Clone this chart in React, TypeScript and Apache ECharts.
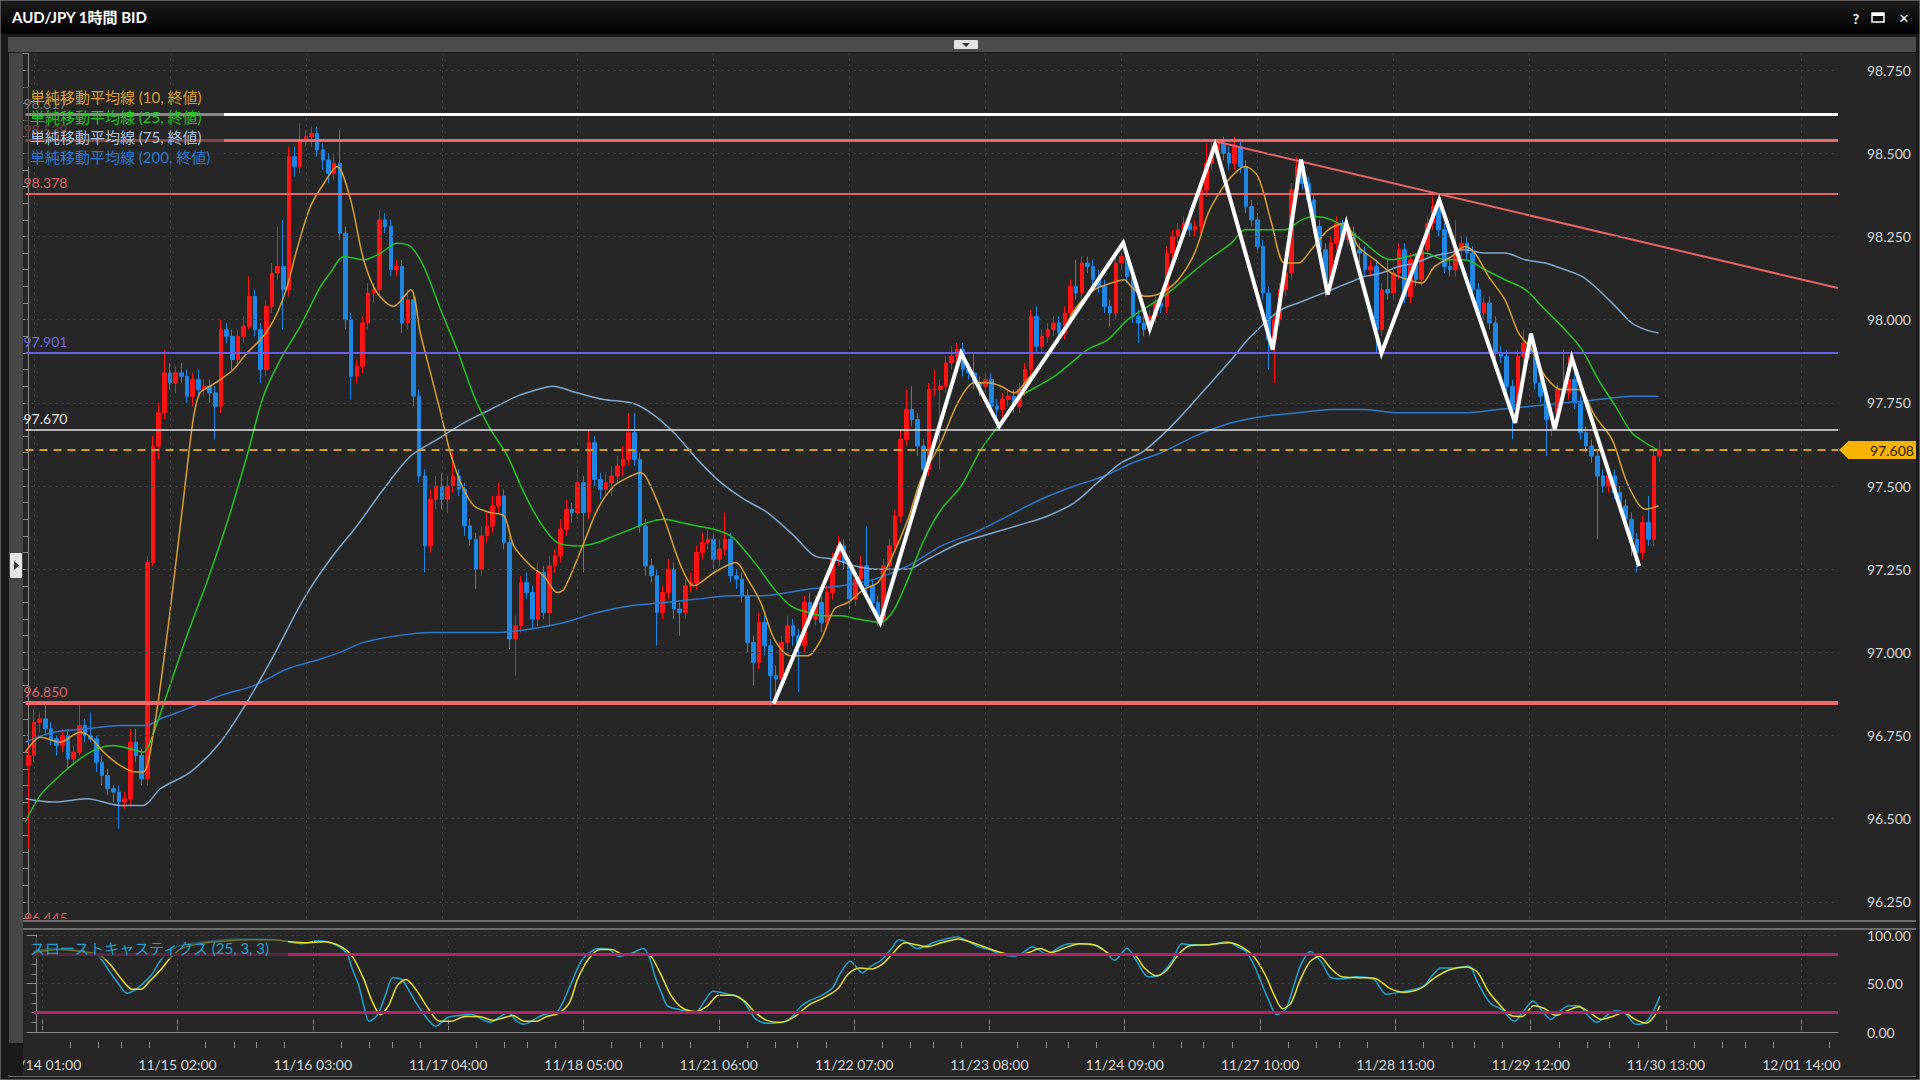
import React, { useEffect, useRef } from "react";
import * as echarts from "echarts";

// ---------------- DATA ----------------
const firstOpen = 96.66;
// hourly closes, index 0 = 11/14 00:00 ... index 288 = 11/30 12:00
const closes = [
  96.69, 96.79, 96.80, 96.77, 96.74, 96.72, 96.75, 96.68, 96.70, 96.78,
  96.75, 96.74, 96.67, 96.63, 96.59, 96.58, 96.55, 96.56, 96.73, 96.69,
  96.62, 97.27, 97.62, 97.72, 97.84, 97.81, 97.84, 97.83, 97.77, 97.82,
  97.79, 97.80, 97.78, 97.74, 97.97, 97.95, 97.88, 97.95, 97.98, 98.07,
  97.97, 97.85, 98.04, 98.14, 98.16, 98.09, 98.49, 98.46, 98.54, 98.55,
  98.56, 98.51, 98.48, 98.44, 98.47, 98.26, 98.00, 97.83, 97.86, 97.99,
  98.08, 98.09, 98.30, 98.28, 98.15, 98.16, 97.99, 98.06, 97.77, 97.53,
  97.32, 97.46, 97.50, 97.46, 97.50, 97.53, 97.49, 97.38, 97.34, 97.25,
  97.35, 97.38, 97.44, 97.47, 97.33, 97.04, 97.08, 97.21, 97.18, 97.10,
  97.24, 97.12, 97.26, 97.29, 97.37, 97.43, 97.42, 97.51, 97.42, 97.63,
  97.52, 97.49, 97.51, 97.53, 97.56, 97.58, 97.66, 97.58, 97.38, 97.26,
  97.23, 97.12, 97.18, 97.25, 97.13, 97.12, 97.20, 97.21, 97.30, 97.33,
  97.34, 97.28, 97.31, 97.34, 97.23, 97.22, 97.17, 97.03, 96.97, 97.09,
  97.02, 96.93, 96.92, 97.03, 97.08, 97.05, 97.02, 97.15, 97.10, 97.15,
  97.09, 97.18, 97.28, 97.32, 97.27, 97.16, 97.22, 97.26, 97.20, 97.15,
  97.10, 97.26, 97.32, 97.41, 97.64, 97.73, 97.70, 97.62, 97.55, 97.79,
  97.79, 97.80, 97.87, 97.89, 97.91, 97.85, 97.84, 97.81, 97.80, 97.82,
  97.74, 97.73, 97.76, 97.77, 97.74, 97.79, 97.85, 98.01, 97.92, 97.95,
  97.97, 97.99, 97.96, 98.02, 98.10, 98.08, 98.17, 98.16, 98.12, 98.10,
  98.04, 98.02, 98.17, 98.19, 98.13, 98.01, 97.99, 97.97, 98.01, 98.05,
  98.04, 98.20, 98.25, 98.27, 98.29, 98.27, 98.28, 98.39, 98.47, 98.51,
  98.53, 98.50, 98.47, 98.52, 98.46, 98.34, 98.30, 98.22, 98.08, 97.94,
  98.00, 98.09, 98.14, 98.39, 98.46, 98.41, 98.36, 98.28, 98.21, 98.11,
  98.23, 98.29, 98.24, 98.26, 98.21, 98.20, 98.15, 98.16, 97.97, 98.09,
  98.08, 98.14, 98.21, 98.07, 98.18, 98.12, 98.21, 98.29, 98.34, 98.27,
  98.16, 98.15, 98.21, 98.23, 98.20, 98.09, 98.02, 98.05, 97.99, 97.90,
  97.89, 97.80, 97.73, 97.89, 97.93, 97.90, 97.81, 97.77, 97.70, 97.72,
  97.79, 97.78, 97.82, 97.75, 97.66, 97.62, 97.59, 97.53, 97.50, 97.53,
  97.48, 97.44, 97.40, 97.34, 97.30, 97.39, 97.34, 97.59, 97.608,
];
// wick lengths beyond the body, in 0.01 JPY
const upperWicks = [
  3, 4, 2, 5, 2, 1, 2, 2, 2, 7,
  2, 7, 1, 2, 2, 1, 2, 2, 4, 4,
  2, 2, 3, 3, 7, 3, 2, 3, 2, 2,
  3, 2, 2, 2, 3, 2, 2, 2, 3, 6,
  2, 2, 2, 3, 12, 14, 3, 3, 5, 2,
  2, 2, 2, 2, 3, 10, 2, 2, 2, 2,
  3, 2, 3, 2, 2, 2, 2, 3, 2, 2,
  2, 3, 3, 4, 3, 7, 2, 2, 2, 2,
  3, 4, 3, 4, 2, 2, 3, 2, 3, 2,
  3, 2, 3, 2, 3, 3, 2, 4, 2, 4,
  2, 2, 3, 3, 3, 4, 6, 6, 2, 2,
  2, 2, 2, 3, 2, 2, 2, 3, 2, 3,
  3, 2, 3, 8, 2, 2, 2, 2, 2, 3,
  2, 2, 3, 2, 3, 2, 2, 2, 3, 2,
  2, 2, 2, 3, 2, 2, 2, 3, 12, 2,
  2, 2, 2, 2, 3, 6, 7, 2, 2, 2,
  6, 2, 2, 3, 2, 2, 2, 6, 2, 2,
  2, 2, 2, 2, 2, 2, 2, 2, 3, 2,
  2, 2, 2, 2, 2, 8, 2, 2, 2, 3,
  2, 2, 2, 4, 2, 2, 2, 2, 2, 2,
  2, 2, 2, 2, 2, 4, 2, 2, 6, 3,
  1, 2, 2, 3, 2, 2, 2, 2, 2, 2,
  2, 2, 2, 2, 3, 2, 2, 2, 2, 2,
  2, 2, 1, 2, 2, 2, 2, 2, 2, 2,
  9, 2, 2, 2, 2, 2, 2, 2, 3, 2,
  2, 2, 9, 2, 2, 2, 2, 2, 2, 2,
  2, 2, 2, 2, 4, 2, 2, 2, 2, 2,
  2, 12, 7, 2, 2, 2, 2, 2, 2, 2,
  2, 2, 2, 2, 2, 2, 8, 2, 3,
];
const lowerWicks = [
  25, 2, 3, 2, 2, 3, 2, 3, 2, 1,
  2, 1, 3, 3, 2, 3, 8, 2, 2, 2,
  2, 2, 1, 4, 2, 2, 3, 2, 2, 3,
  2, 2, 3, 10, 2, 2, 3, 2, 2, 1,
  2, 4, 2, 2, 2, 12, 2, 3, 2, 2,
  3, 2, 3, 3, 2, 2, 3, 7, 2, 2,
  2, 3, 2, 2, 2, 2, 3, 2, 3, 2,
  8, 2, 3, 3, 4, 2, 2, 3, 2, 6,
  2, 2, 2, 2, 2, 3, 11, 2, 2, 3,
  2, 2, 4, 2, 2, 2, 3, 2, 18, 2,
  2, 3, 2, 4, 2, 3, 2, 2, 2, 3,
  2, 10, 2, 2, 3, 7, 2, 2, 2, 2,
  2, 3, 2, 2, 2, 3, 2, 3, 7, 2,
  3, 9, 6, 2, 2, 3, 14, 2, 2, 2,
  3, 2, 2, 2, 2, 3, 2, 2, 2, 2,
  2, 2, 2, 2, 2, 2, 2, 3, 5, 2,
  2, 24, 2, 2, 2, 2, 2, 2, 3, 2,
  2, 5, 3, 2, 2, 2, 2, 2, 2, 2,
  2, 2, 3, 2, 2, 2, 2, 2, 2, 2,
  2, 4, 2, 2, 2, 2, 6, 2, 2, 2,
  2, 2, 2, 2, 2, 2, 2, 2, 2, 2,
  2, 2, 2, 2, 2, 2, 2, 2, 2, 9,
  13, 2, 2, 2, 2, 2, 2, 2, 2, 4,
  2, 2, 2, 2, 2, 3, 2, 2, 7, 2,
  2, 2, 2, 2, 2, 2, 2, 2, 2, 2,
  2, 2, 2, 2, 2, 2, 2, 2, 2, 2,
  2, 4, 9, 2, 2, 2, 2, 2, 11, 5,
  2, 2, 2, 2, 2, 2, 2, 19, 2, 2,
  2, 2, 2, 5, 6, 2, 2, 2, 2,
];

const tickLabels = [
  "11/14 01:00", "11/15 02:00", "11/16 03:00", "11/17 04:00", "11/18 05:00",
  "11/21 06:00", "11/22 07:00", "11/23 08:00", "11/24 09:00", "11/27 10:00",
  "11/28 11:00", "11/29 12:00", "11/30 13:00", "12/01 14:00",
];
const priceTicks = [96.25, 96.5, 96.75, 97.0, 97.25, 97.5, 97.75, 98.0, 98.25, 98.5, 98.75];
const levelValues = [98.617, 98.539, 98.378, 97.901, 97.67, 96.85];
const currentPrice = 97.608;
const stochLevels = [80, 20];

// moving averages: [bar index, value]
const ma10 = [
  [-0.5, 96.7], [2.1, 96.745], [5.6, 96.73], [9.1, 96.76], [10.6, 96.75], [13.3, 96.7], [16.2, 96.66], [18.9, 96.64], [20.3, 96.64], [22.1, 96.76],
  [25, 97.12], [28, 97.55], [29.2, 97.71], [30.3, 97.78], [32.1, 97.8], [33.9, 97.82], [36.2, 97.85], [38.6, 97.9], [41, 97.94], [42.7, 97.98],
  [44.2, 98.03], [45.7, 98.1], [47.4, 98.21], [49.8, 98.34], [52.2, 98.41], [54.5, 98.46], [56.9, 98.36], [59.2, 98.18], [61.6, 98.08], [64.5, 98.04],
  [67.5, 98.09], [69.2, 97.96], [71, 97.84], [72.8, 97.72], [74.5, 97.6], [76.6, 97.5], [78.7, 97.44], [81.6, 97.42], [84, 97.41], [85.7, 97.32],
  [88.7, 97.26], [91, 97.23], [93.4, 97.18], [94.6, 97.19], [98.1, 97.33], [100.5, 97.43], [103.4, 97.5], [106.4, 97.53], [108.1, 97.54], [109.3, 97.52],
  [112.3, 97.4], [115.2, 97.26], [117.5, 97.2], [121.1, 97.24], [124.9, 97.27], [127, 97.22], [129.3, 97.15], [131.7, 97.04], [134.6, 96.99], [137.6, 96.99],
  [140, 97.04], [142.3, 97.13], [144.7, 97.15], [147.6, 97.19], [150, 97.21], [152.3, 97.28], [155.3, 97.4], [157.6, 97.52], [161.1, 97.63], [164.1, 97.75],
  [167, 97.81], [169.4, 97.81], [171.7, 97.8], [174.1, 97.78], [176.4, 97.82], [179.4, 97.88], [182.3, 97.95], [184.7, 98.03], [188.2, 98.09], [191.2, 98.11],
  [193.5, 98.12], [194.7, 98.1], [197.1, 98.07], [200, 98.08], [203, 98.12], [205.9, 98.2], [208.3, 98.32], [210.6, 98.39], [212.4, 98.43], [214.8, 98.46],
  [217.1, 98.43], [219.5, 98.29], [221.8, 98.17], [224.2, 98.17], [226.5, 98.21], [229.5, 98.27], [232.4, 98.29], [234.8, 98.22], [237.7, 98.18], [240.7, 98.14],
  [243.6, 98.12], [246, 98.11], [248.3, 98.16], [251.3, 98.19], [253.6, 98.22], [255.4, 98.2], [257.8, 98.13], [260.7, 98.06], [263.1, 97.96], [265.4, 97.91],
  [267.8, 97.83], [270.7, 97.79], [273.7, 97.79], [276.6, 97.71], [279.6, 97.64], [282.5, 97.5], [285.5, 97.43], [287.8, 97.44],
];
const ma25 = [
  [-0.5, 96.49], [2.1, 96.57], [5.6, 96.63], [9.1, 96.68], [12.1, 96.71], [15, 96.72], [18, 96.71], [20.3, 96.7], [21.5, 96.73], [25, 96.9],
  [28, 97.05], [31.5, 97.21], [35.1, 97.39], [38.6, 97.59], [41.5, 97.77], [44.5, 97.88], [48, 97.98], [51.6, 98.1], [53.3, 98.14], [55.7, 98.19],
  [59.2, 98.18], [62.2, 98.2], [65.1, 98.23], [67.5, 98.22], [69.8, 98.16], [72.8, 98.03], [75.7, 97.91], [78.7, 97.77], [81.6, 97.67], [84.6, 97.59],
  [87.5, 97.48], [90.4, 97.39], [93.4, 97.33], [97.5, 97.32], [100.5, 97.33], [103.4, 97.35], [106.4, 97.37], [109.3, 97.39], [112.3, 97.4], [115.2, 97.39],
  [118.1, 97.38], [121.1, 97.37], [124, 97.35], [125.8, 97.32], [128.7, 97.26], [131.7, 97.19], [134.6, 97.14], [137.6, 97.12], [140.5, 97.11], [143.5, 97.11],
  [146.4, 97.1], [150.5, 97.09], [152.9, 97.13], [155.3, 97.22], [158.2, 97.34], [161.2, 97.43], [164.7, 97.5], [168.2, 97.61], [171.7, 97.69], [175.3, 97.77],
  [178.2, 97.8], [181.2, 97.83], [184.1, 97.87], [187, 97.91], [190.6, 97.94], [194.1, 98.0], [197.7, 98.04], [201.2, 98.08], [204.7, 98.13], [208.3, 98.18],
  [212.4, 98.23], [214.8, 98.27], [218.3, 98.27], [221.8, 98.27], [224.8, 98.3], [227.1, 98.31], [230.1, 98.3], [233, 98.27], [236, 98.23], [238.9, 98.19],
  [240.7, 98.18], [243.6, 98.19], [246.6, 98.2], [250.1, 98.18], [253.6, 98.18], [257.2, 98.15], [260.7, 98.12], [264.3, 98.09], [267.8, 98.03], [271.3, 97.97],
  [274.3, 97.91], [277.2, 97.82], [280.2, 97.74], [283.1, 97.66], [285.5, 97.63], [287.5, 97.61],
];
const ma75 = [
  [-0.5, 96.56], [4.4, 96.55], [10.3, 96.56], [16.2, 96.54], [20.3, 96.54], [23.3, 96.59], [28.6, 96.64], [33.9, 96.73], [38.6, 96.85], [43.3, 96.99],
  [48.6, 97.16], [53.3, 97.28], [58, 97.38], [62.7, 97.49], [67.5, 97.59], [72.2, 97.64], [76.9, 97.69], [81.6, 97.73], [86.3, 97.77], [89.9, 97.79],
  [92.5, 97.8], [96.9, 97.78], [101.6, 97.76], [106.4, 97.75], [109.9, 97.72], [114, 97.66], [118.1, 97.58], [122.3, 97.51], [126.4, 97.46], [130.5, 97.42],
  [135.2, 97.35], [138.8, 97.29], [142.3, 97.28], [145.8, 97.26], [149.4, 97.25], [152.9, 97.25], [155.3, 97.25], [158.8, 97.28], [164.7, 97.33], [170.5, 97.36],
  [176.4, 97.39], [180, 97.41], [184.7, 97.45], [189.4, 97.52], [193, 97.57], [196.5, 97.6], [200, 97.65], [203.5, 97.71], [207.7, 97.79], [212.4, 97.88],
  [215.3, 97.94], [218.3, 97.99], [221.2, 98.03], [224.2, 98.05], [227.1, 98.07], [230.1, 98.09], [233, 98.11], [236, 98.13], [238.9, 98.14], [241.9, 98.16],
  [244.8, 98.17], [247.8, 98.19], [250.7, 98.2], [253.6, 98.21], [257.2, 98.2], [260.7, 98.2], [264.3, 98.18], [267.8, 98.17], [271.3, 98.15], [274.3, 98.13],
  [277.2, 98.09], [280.2, 98.04], [283.1, 97.99], [285.5, 97.97], [287.8, 97.96],
];
const ma200 = [
  [-0.5, 96.73], [4.4, 96.76], [10.3, 96.77], [16.2, 96.78], [20.9, 96.78], [23.3, 96.8], [28, 96.83], [33.9, 96.87], [39.8, 96.9], [45.7, 96.95],
  [51.6, 96.98], [55, 97.0], [59.2, 97.03], [65.1, 97.05], [71, 97.06], [76.9, 97.06], [82.8, 97.06], [88.7, 97.07], [94.6, 97.09], [100.5, 97.12],
  [106.4, 97.14], [112.3, 97.15], [118.1, 97.16], [124, 97.17], [129.3, 97.17], [137.6, 97.19], [143.5, 97.2], [149.4, 97.22], [155.3, 97.26], [161.2, 97.32],
  [167.1, 97.36], [173, 97.41], [178.8, 97.46], [184.7, 97.5], [190, 97.53], [195, 97.57], [200, 97.6], [206, 97.65], [212.4, 97.69], [218.3, 97.71],
  [224.2, 97.72], [230.1, 97.73], [236, 97.73], [241.9, 97.72], [247.8, 97.72], [253.6, 97.72], [259.5, 97.73], [265.4, 97.74], [271.3, 97.75], [277.2, 97.76],
  [283.1, 97.77], [287.8, 97.77],
];
// slow stochastics %K / %D
const stochK = [
  [-0.5, 83], [3, 86], [6, 85], [9, 82], [11, 78], [13, 62], [14.5, 50], [16, 40], [17, 42], [18.3, 47], [20.4, 59], [22, 74], [24, 85], [26, 90], [30, 93],
  [33, 95], [36, 96], [39, 96], [42, 95], [44, 94], [47, 91], [50, 94], [53, 90], [55, 81], [56, 65], [57.2, 47], [58, 28], [59, 11], [60.5, 18], [62, 40],
  [63.2, 56], [64.8, 54], [67, 33], [69, 16], [70.8, 6], [72.9, 15], [75, 17], [77.3, 18], [79, 13], [80.5, 10], [82, 15], [83.7, 20], [85, 12], [86.4, 8],
  [88, 12], [89.2, 16], [90.8, 19], [92.4, 21], [94.6, 47], [96.7, 74], [98.9, 85], [100, 86], [101.6, 85], [103.2, 78], [105.4, 81], [107.6, 86], [108.8, 75],
  [109.7, 57], [111, 38], [111.9, 27], [114.1, 23], [116.8, 20], [118.5, 32], [120, 42], [122.7, 39], [124.9, 35], [126.5, 22], [127.6, 13], [129.7, 9],
  [133, 11], [135.7, 27], [137, 32], [139, 37], [141.1, 45], [142.5, 60], [144.3, 73], [146.5, 61], [148, 68], [149.8, 74], [151.5, 85], [153, 95], [154.5, 92],
  [156.2, 86], [159.5, 93], [163.3, 98], [164.7, 95], [167, 88], [169, 85], [171, 80], [173.4, 78], [175, 82], [176.6, 88], [179.3, 80], [181, 86], [183.1, 91],
  [186.3, 91], [189, 86], [191.2, 74], [193.4, 86], [195, 74], [197.2, 57], [199.3, 59], [201.5, 74], [203.1, 91], [205, 90], [208, 90], [211.2, 93], [213, 88],
  [214.5, 83], [216, 68], [217.2, 51], [218.6, 32], [219.9, 18], [221.5, 23], [223, 48], [224.2, 69], [225.9, 83], [228, 71], [229.6, 56], [232, 55], [234, 57],
  [237.2, 54], [239.4, 39], [242.6, 42], [245.9, 47], [247.5, 58], [249.1, 66], [251.3, 66], [254, 68], [255.6, 51], [257.8, 30], [259.9, 23], [262.1, 11],
  [263.8, 22], [265.4, 32], [267, 22], [268.6, 13], [270.3, 22], [271.8, 27], [273.5, 27], [275, 18], [276.7, 10], [278.5, 17], [280, 22], [281.6, 20],
  [283.7, 8], [285.4, 10], [286.8, 22], [287.9, 37],
];
const stochD = [
  [-0.5, 82], [4, 85], [8, 83], [11, 80], [13, 70], [15, 55], [17, 44], [18.5, 44], [20, 52], [22, 64], [24, 78], [26, 87], [30, 92], [34, 94], [38, 95],
  [42, 95], [45, 93], [48, 92], [51, 93], [54, 88], [56, 78], [58, 55], [59.5, 32], [61, 18], [62.5, 28], [64, 48], [65.5, 54], [67.5, 42], [69.5, 24],
  [71.5, 11], [73.5, 11], [76, 16], [78.5, 16], [81, 12], [83, 15], [84.5, 17], [86.5, 11], [88.5, 11], [90.5, 16], [92.5, 19], [94.5, 30], [96, 55], [98, 76],
  [100, 85], [102, 85], [104, 80], [106, 81], [108.5, 80], [110.5, 62], [112.5, 38], [114.5, 25], [117, 21], [119, 27], [121, 38], [123.5, 38], [125.5, 32],
  [127.5, 20], [129.5, 12], [132, 10], [134.5, 16], [137, 28], [139.5, 35], [142, 44], [144, 60], [146, 66], [148, 65], [150, 70], [152, 82], [154, 92],
  [156, 90], [158, 88], [160.5, 92], [163.5, 96], [166, 92], [168.5, 87], [171, 82], [174, 79], [176, 82], [178, 86], [180, 82], [182.5, 87], [185, 91],
  [188, 89], [190.5, 80], [192.5, 79], [194.5, 80], [196.5, 66], [198.5, 58], [200.5, 64], [202.5, 80], [204.5, 89], [208, 90], [211.5, 92], [214, 87],
  [216, 77], [218, 58], [219.5, 38], [221, 24], [222.5, 30], [224, 52], [225.8, 72], [227.5, 78], [229.5, 66], [231.5, 57], [234.5, 56], [237.5, 55],
  [240, 45], [242.5, 41], [245.5, 45], [248, 56], [250.5, 64], [253.5, 67], [255.5, 62], [257.5, 42], [259.5, 28], [261.5, 17], [263.5, 16], [265.5, 27],
  [267.5, 24], [269.5, 17], [271.5, 22], [273.5, 26], [275.5, 20], [277.5, 13], [279.5, 16], [281.5, 20], [283.5, 13], [285.5, 9], [287, 17], [287.9, 27],
];
// hand-drawn annotations: [bar index, price]
const zigzag = [
  [131.6, 96.846], [143.3, 97.321], [150.4, 97.089], [164.7, 97.899], [171.4, 97.679], [193.3, 98.231], [198.0, 97.973],
  [209.5, 98.525], [219.7, 97.91], [224.7, 98.481], [229.4, 98.076], [232.7, 98.29], [238.9, 97.899], [249.1, 98.36],
  [262.5, 97.69], [265.3, 97.958], [269.5, 97.671], [272.5, 97.885], [284.4, 97.259],
];
const trendLine = [[209.5, 98.536], [319.5, 98.095]];

// ---------------- LAYOUT / STYLE ----------------
const SLOTS = 320;
const TICK_START = 1;
const TICK_STEP = 24;
const MINOR_OFFSETS = [5, 10, 14, 19];
const BG = "#262626";
const FONT_NUM = 'Lato, "Noto Sans", sans-serif';
const FONT_JP = 'Lato, "Noto Sans CJK JP", sans-serif';
const levelStyles = [
  { color: "#ffffff", width: 3, label: "#d8d8d8" },
  { color: "#ec6868", width: 3, label: "#d86060" },
  { color: "#e86464", width: 2, label: "#d86464" },
  { color: "#6a5ce8", width: 2, label: "#7468e0" },
  { color: "#e6e6e6", width: 1.5, label: "#e6e6e6" },
  { color: "#f06868", width: 4, label: "#d86666" },
];
const maStyles = { ma10: "#d9a030", ma25: "#24c324", ma75: "#7ea7cf", ma200: "#2b79cd" };

const isMajor = (i: number) => i >= TICK_START && (i - TICK_START) % TICK_STEP === 0;
const isMinor = (i: number) => i >= TICK_START && MINOR_OFFSETS.includes((i - TICK_START) % TICK_STEP);

export default function App() {
  const ref = useRef<HTMLDivElement>(null);
  useEffect(() => {
    document.body.style.margin = "0";
    if (!ref.current) return;
    const chart = echarts.init(ref.current, null, { renderer: "svg" });

    const cats = Array.from({ length: SLOTS }, (_, i) => String(i));
    const candleData = closes.map((c, i) => {
      const o = i === 0 ? firstOpen : closes[i - 1];
      const hi = Math.max(o, c) + upperWicks[i] * 0.01;
      const lo = Math.min(o, c) - lowerWicks[i] * 0.01;
      return [o, c, +lo.toFixed(3), +hi.toFixed(3)];
    });
    const majorIdx = tickLabels.map((_, k) => TICK_START + k * TICK_STEP);
    const dotted = { color: "#454545", type: [2, 4] as any, width: 1 };
    const axisGrey = "#8a8a8a";

    const maSeries = (name: string, data: number[][], color: string) => ({
      type: "line",
      name,
      xAxisIndex: 1,
      yAxisIndex: 0,
      data,
      smooth: 0.3,
      showSymbol: false,
      symbol: "none",
      lineStyle: { color, width: 1.5 },
      z: 3,
      silent: true,
    });

    const option: any = {
      animation: false,
      backgroundColor: BG,
      grid: [
        { left: 25.5, top: 53.5, width: 1812.5, height: 865 },
        { left: 25.5, top: 935, width: 1812.5, height: 97 },
      ],
      xAxis: [
        { type: "category", gridIndex: 0, data: cats, axisLine: { show: false }, axisTick: { show: false }, axisLabel: { show: false }, splitLine: { show: false } },
        { type: "value", gridIndex: 0, min: -0.5, max: SLOTS - 0.5, show: false },
        {
          type: "category", gridIndex: 1, data: cats, position: "bottom", offset: 16,
          axisLine: { show: true, lineStyle: { color: axisGrey } },
          axisTick: { show: true, inside: true, length: 12, alignWithLabel: true, interval: (i: number) => isMajor(i), lineStyle: { color: axisGrey } },
          axisLabel: {
            interval: (i: number) => isMajor(i),
            formatter: (v: string) => { const i = Number(v); return isMajor(i) ? tickLabels[(i - TICK_START) / TICK_STEP] || "" : ""; },
            color: "#d6d6d6", fontFamily: FONT_NUM, fontSize: 14, margin: 9,
          },
          splitLine: { show: false },
        },
        {
          type: "category", gridIndex: 1, data: cats, position: "bottom", offset: 16,
          axisLine: { show: false },
          axisTick: { show: true, inside: true, length: 6, alignWithLabel: true, interval: (i: number) => isMinor(i), lineStyle: { color: axisGrey } },
          axisLabel: { show: false }, splitLine: { show: false },
        },
        { type: "value", gridIndex: 1, min: -0.5, max: SLOTS - 0.5, show: false },
      ],
      yAxis: [
        {
          type: "value", gridIndex: 0, position: "right", min: 96.2, max: 98.8, interval: 0.05, offset: 12,
          axisLine: { show: true, lineStyle: { color: axisGrey } },
          axisTick: { show: true, inside: true, length: 7, lineStyle: { color: axisGrey } },
          axisLabel: {
            formatter: (v: number) => (Math.abs(v * 4 - Math.round(v * 4)) < 1e-6 ? v.toFixed(3) : ""),
            color: "#d6d6d6", fontFamily: FONT_NUM, fontSize: 14, margin: 17,
          },
          splitLine: { show: false },
        },
        {
          type: "value", gridIndex: 1, position: "right", min: 0, max: 100, interval: 50, offset: 12,
          axisLine: { show: true, lineStyle: { color: axisGrey } },
          axisTick: { show: true, inside: true, length: 10, lineStyle: { color: axisGrey } },
          minorTick: { show: true, splitNumber: 5, length: 5, lineStyle: { color: axisGrey } },
          axisLabel: { formatter: (v: number) => v.toFixed(2), color: "#d6d6d6", fontFamily: FONT_NUM, fontSize: 14, margin: 17 },
          splitLine: { show: true, lineStyle: dotted },
        },
      ],
      series: [
        {
          type: "line", name: "grid-main", xAxisIndex: 1, yAxisIndex: 0, data: [], z: 1, silent: true,
          markLine: {
            silent: true, symbol: ["none", "none"], label: { show: false },
            lineStyle: dotted,
            data: [...priceTicks.map((v) => ({ yAxis: v })), ...majorIdx.map((x) => ({ xAxis: x }))],
          },
        },
        {
          type: "line", name: "grid-stoch", xAxisIndex: 4, yAxisIndex: 1, data: [], z: 1, silent: true,
          markLine: {
            silent: true, symbol: ["none", "none"], label: { show: false },
            data: [
              ...majorIdx.map((x) => ({ xAxis: x, lineStyle: dotted })),
              ...stochLevels.map((v) => ({ yAxis: v, lineStyle: { color: "#b0226a", width: 3, type: "solid" } })),
            ],
          },
        },
        {
          type: "candlestick", name: "AUD/JPY", xAxisIndex: 0, yAxisIndex: 0, data: candleData, barWidth: "72%", z: 2,
          itemStyle: { color: "#ff1414", color0: "#1f86e4", borderColor: "#ff1414", borderColor0: "#1f86e4", borderWidth: 1 },
        },
        maSeries("MA200", ma200, maStyles.ma200),
        maSeries("MA75", ma75, maStyles.ma75),
        maSeries("MA25", ma25, maStyles.ma25),
        maSeries("MA10", ma10, maStyles.ma10),
        {
          type: "line", name: "levels", xAxisIndex: 1, yAxisIndex: 0, data: [], z: 4, silent: true,
          markLine: {
            silent: true, symbol: ["none", "none"], precision: 3,
            data: [
              ...levelValues.map((v, k) => ({
                yAxis: v,
                lineStyle: { color: levelStyles[k].color, width: levelStyles[k].width, type: "solid" },
                label: { show: true, position: "insideStartTop", formatter: v.toFixed(3), color: levelStyles[k].label, fontSize: 14, fontFamily: FONT_NUM, distance: [-2, 4] },
              })),
              {
                yAxis: currentPrice,
                lineStyle: { color: "#d4a11c", width: 2, type: [8, 6] },
                label: {
                  show: true, position: "end", formatter: currentPrice.toFixed(3), color: "#2a1e00", backgroundColor: "#f6b300",
                  padding: [2, 8, 2, 22], fontSize: 14, fontFamily: FONT_NUM, distance: 10,
                },
              },
            ],
          },
        },
        {
          type: "line", name: "trend", xAxisIndex: 1, yAxisIndex: 0, data: trendLine, showSymbol: false, symbol: "none",
          lineStyle: { color: "#e86464", width: 2 }, z: 4, silent: true,
        },
        {
          type: "line", name: "zigzag", xAxisIndex: 1, yAxisIndex: 0, data: zigzag, showSymbol: false, symbol: "none",
          lineStyle: { color: "#ffffff", width: 4, join: "miter" }, z: 5, silent: true,
        },
        {
          type: "line", name: "%K", xAxisIndex: 4, yAxisIndex: 1, data: stochK, smooth: 0.3, showSymbol: false, symbol: "none",
          lineStyle: { color: "#1fa3cf", width: 1.5 }, z: 3, silent: true,
        },
        {
          type: "line", name: "%D", xAxisIndex: 4, yAxisIndex: 1, data: stochD, smooth: 0.3, showSymbol: false, symbol: "none",
          lineStyle: { color: "#e4e02c", width: 1.5 }, z: 4, silent: true,
        },
      ],
      graphic: [
        // title bar
        { type: "rect", z: 20, shape: { x: 0, y: 0, width: 1920, height: 34 },
          style: { fill: new echarts.graphic.LinearGradient(0, 0, 0, 1, [{ offset: 0, color: "#1c1c1c" }, { offset: 1, color: "#000000" }]) } },
        { type: "text", z: 21, x: 12, y: 17, style: { text: "AUD/JPY 1時間 BID", fill: "#ffffff", font: 'bold 15px Lato, "Noto Sans CJK JP", sans-serif', textVerticalAlign: "middle", verticalAlign: "middle" } },
        { type: "text", z: 21, x: 1856, y: 18, style: { text: "?", fill: "#ffffff", font: "bold 14px Lato, sans-serif", textAlign: "center", align: "center", textVerticalAlign: "middle", verticalAlign: "middle" } },
        { type: "rect", z: 21, shape: { x: 1872, y: 13, width: 12, height: 9 }, style: { fill: "none", stroke: "#ffffff", lineWidth: 1.5 } },
        { type: "rect", z: 21, shape: { x: 1872, y: 13, width: 12, height: 3 }, style: { fill: "#ffffff" } },
        { type: "text", z: 21, x: 1904, y: 18, style: { text: "✕", fill: "#ffffff", font: '13px "DejaVu Sans", sans-serif', textAlign: "center", align: "center", textVerticalAlign: "middle", verticalAlign: "middle" } },
        // frame
        { type: "rect", z: 19, shape: { x: 0, y: 34, width: 1920, height: 19 }, style: { fill: "#1a1a1a" } },
        { type: "rect", z: 20, shape: { x: 8, y: 37, width: 1908, height: 15 }, style: { fill: "#4c4c4c" } },
        { type: "rect", z: 21, shape: { x: 954, y: 40, width: 24, height: 9, r: 1 }, style: { fill: "#e2e2e2" } },
        { type: "polygon", z: 22, shape: { points: [[962, 43], [970, 43], [966, 47]] }, style: { fill: "#333333" } },
        { type: "rect", z: 19, shape: { x: 0, y: 34, width: 9, height: 1046 }, style: { fill: "#1a1a1a" } },
        { type: "rect", z: 19, shape: { x: 1916, y: 34, width: 4, height: 1046 }, style: { fill: "#1a1a1a" } },
        { type: "rect", z: 20, shape: { x: 9, y: 53, width: 14, height: 990 }, style: { fill: "#464646" } },
        { type: "rect", z: 21, shape: { x: 10, y: 553, width: 12, height: 25, r: 1 }, style: { fill: "#e6e6e6" } },
        { type: "polygon", z: 22, shape: { points: [[14, 561], [14, 570], [19, 565.5]] }, style: { fill: "#333333" } },
        { type: "rect", z: 20, shape: { x: 0, y: 1043, width: 23, height: 37 }, style: { fill: "#1a1a1a" } },
        { type: "rect", z: 20, shape: { x: 0, y: 1077, width: 1920, height: 3 }, style: { fill: "#1a1a1a" } },
        { type: "rect", z: 21, shape: { x: 9, y: 1076, width: 1907, height: 1 }, style: { fill: "#6a6a6a" } },
        { type: "rect", z: 20, shape: { x: 0, y: 0, width: 1920, height: 1080 }, style: { fill: "none", stroke: "#9a9a9a", lineWidth: 1 } },
        // partially hidden level label
        { type: "text", z: 9, x: 24, y: 910, style: { text: "96.445", fill: "#d06060", font: `14px ${FONT_NUM}`, textVerticalAlign: "top", verticalAlign: "top" } },
        // pane separator
        { type: "rect", z: 10, shape: { x: 23, y: 919, width: 1893, height: 10 }, style: { fill: BG } },
        { type: "rect", z: 11, shape: { x: 23, y: 920, width: 1893, height: 2 }, style: { fill: "#6b6b6b" } },
        { type: "rect", z: 11, shape: { x: 23, y: 928, width: 1893, height: 2 }, style: { fill: "#6b6b6b" } },
        // MA legend (semi-transparent, lines show faintly through)
        { type: "rect", z: 10, shape: { x: 24, y: 87, width: 200, height: 80 }, style: { fill: "rgba(38,38,38,0.55)" } },
        { type: "text", z: 11, x: 30, y: 97, style: { text: "単純移動平均線 (10, 終値)", fill: maStyles.ma10, font: `15px ${FONT_JP}`, textVerticalAlign: "middle", verticalAlign: "middle" } },
        { type: "text", z: 11, x: 30, y: 117, style: { text: "単純移動平均線 (25, 終値)", fill: maStyles.ma25, font: `15px ${FONT_JP}`, textVerticalAlign: "middle", verticalAlign: "middle" } },
        { type: "text", z: 11, x: 30, y: 137, style: { text: "単純移動平均線 (75, 終値)", fill: "#a9c2de", font: `15px ${FONT_JP}`, textVerticalAlign: "middle", verticalAlign: "middle" } },
        { type: "text", z: 11, x: 30, y: 157, style: { text: "単純移動平均線 (200, 終値)", fill: maStyles.ma200, font: `15px ${FONT_JP}`, textVerticalAlign: "middle", verticalAlign: "middle" } },
        // stochastic legend
        { type: "rect", z: 10, shape: { x: 24, y: 937, width: 264, height: 22 }, style: { fill: "rgba(38,38,38,0.6)" } },
        { type: "text", z: 11, x: 30, y: 948, style: { text: "スローストキャスティクス (25, 3, 3)", fill: "#1f9fc9", font: `15px ${FONT_JP}`, textVerticalAlign: "middle", verticalAlign: "middle" } },
      ],
    };

    chart.setOption(option);

    // left-pointing arrow of the current price tag, placed through the price axis
    const py = chart.convertToPixel({ yAxisIndex: 0 }, currentPrice) as number;
    if (Number.isFinite(py)) {
      chart.setOption({
        graphic: [
          ...option.graphic,
          { type: "polygon", z: 30, shape: { points: [[1839, py], [1849, py - 9.5], [1849, py + 9.5]] }, style: { fill: "#f6b300" } },
        ],
      });
    }
    return () => chart.dispose();
  }, []);

  return <div ref={ref} style={{ position: "absolute", left: 0, top: 0, width: 1920, height: 1080 }} />;
}
